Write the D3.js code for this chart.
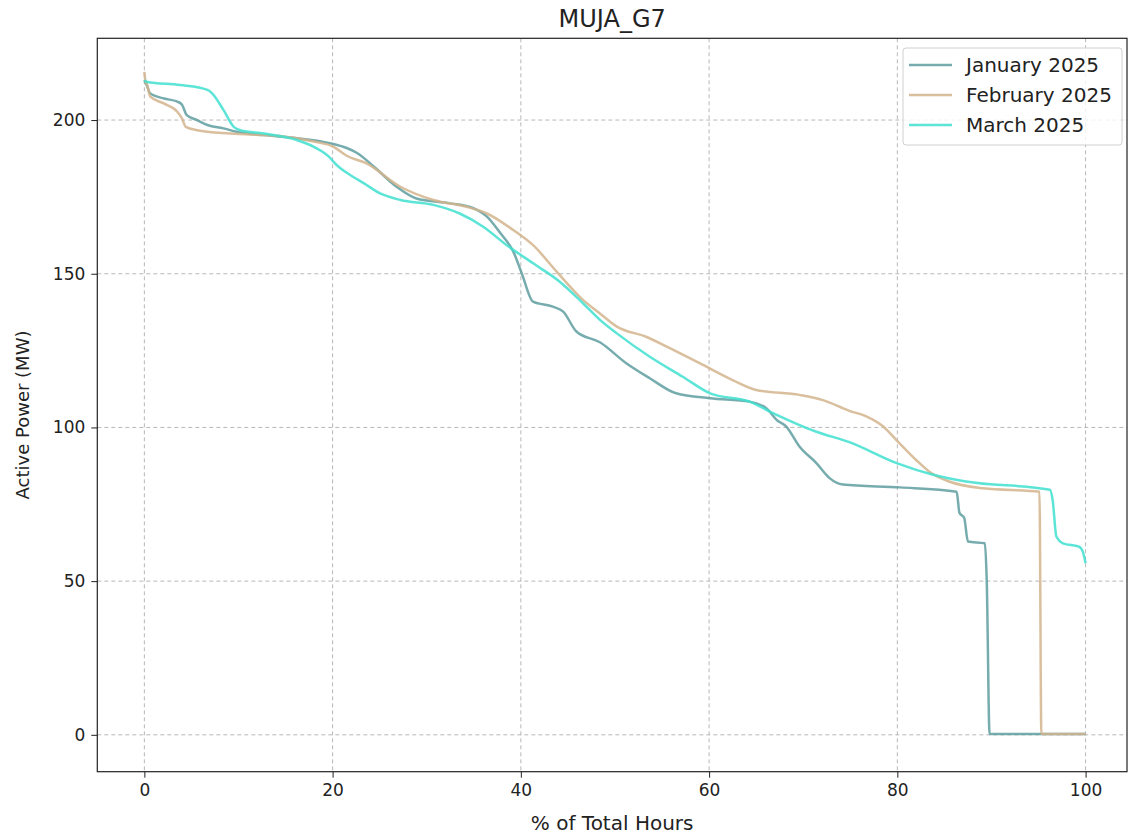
<!DOCTYPE html>
<html><head><meta charset="utf-8">
<script src="https://cdn.jsdelivr.net/npm/d3@7"></script>
<style>body{margin:0;background:#fff}svg{display:block}text{font-family:"DejaVu Sans",sans-serif;fill:#222}</style>
</head><body>
<script>
const title = "MUJA_G7";
const seriesNames = ["January 2025", "February 2025", "March 2025"];
const seriesColors = ["#5F9EA0", "#D2B48C", "#40E0D0"];
const xTicks = [0, 20, 40, 60, 80, 100];
const yTicks = [0, 50, 100, 150, 200];

const janX = [0, 0.3, 0.6, 2.1, 3.5, 4, 4.5, 5.6, 6.7, 8.4, 9.8, 12.7, 16.2, 19.7, 21.5, 22.6, 24.4, 26.8, 28.9, 32.5, 34.9, 36.4, 37.8, 39.2, 40.1, 41.3, 43.4, 44.5, 45.9, 48.4, 51.2, 53.7, 56.5, 60.1, 64.3, 66.1, 67.2, 68.2, 69.6, 71.4, 72.8, 74.2, 80.3, 86.3, 86.6, 87.1, 87.5, 89.3, 89.5, 89.8, 95, 100];
const janY = [213, 211, 208.7, 207, 206, 205, 201.6, 200, 198.4, 197.3, 196.2, 195.1, 194.1, 192.5, 190.9, 189.3, 184.8, 178.3, 174.5, 172.9, 171.4, 168.6, 163.3, 157.2, 150.1, 140.9, 139.3, 137.7, 131.2, 127.7, 120.9, 116, 111.1, 109.5, 108.4, 106.2, 102.4, 100.3, 93.8, 88.4, 83.5, 81.4, 80.5, 79.1, 72.2, 70.6, 62.9, 62.3, 50, 0.3, 0.3, 0.3];

const febX = [0, 0.1, 0.3, 0.64, 2.06, 3.5, 4, 4.4, 5.6, 9.1, 14.4, 18, 20.1, 21.5, 23.6, 27.2, 30.7, 34.2, 36.4, 39.2, 41.3, 43.8, 46.6, 48.4, 50.2, 53.3, 55.5, 59, 62.5, 65, 69.6, 72.1, 74.9, 76.7, 78.5, 79.9, 82, 83.4, 85.5, 89.1, 95.1, 95.3, 100];
const febY = [215.7, 213, 211.4, 207.6, 205.4, 202.7, 200.5, 197.8, 196.7, 195.6, 194.8, 193, 191.3, 188.4, 185.9, 178.3, 174, 171.8, 169.6, 164.2, 159.3, 150.7, 141.5, 137.1, 132.8, 129.5, 126.3, 120.9, 115.4, 112.2, 110.6, 108.9, 105.4, 103.6, 100.3, 95.9, 89.4, 85.6, 82.4, 80.2, 79.1, 0.3, 0.3];

const marX = [0, 0.3, 3.8, 6.7, 7.2, 8.4, 9.5, 10.2, 12.7, 16.2, 18, 19.8, 20.1, 22.2, 23.3, 25, 27.2, 30.7, 33.5, 36, 38.5, 41.3, 44.1, 46.6, 48.4, 50.2, 53.7, 57.2, 60.1, 64.3, 66.5, 71.4, 74.9, 80, 83.8, 87.3, 96.2, 96.5, 96.9, 97.6, 99.3, 99.7, 100];
const marY = [213, 212.4, 211.4, 209.8, 208.7, 203.3, 197.8, 196.7, 195.6, 193.5, 191.3, 187.5, 186.4, 181.5, 179.5, 176.2, 174, 172.4, 169.6, 165.3, 159.3, 153.4, 147.5, 140.4, 135, 130.6, 123, 116.5, 111.1, 108.4, 105.1, 98.6, 95.2, 88.3, 84.6, 82.4, 79.7, 76.4, 64.5, 62.3, 61.2, 59.6, 55.8];

const seriesX = [janX, febX, marX];
const seriesY = [janY, febY, marY];

const W = 1128, H = 835;
const L = 97.3, R = 1127, T = 38.3, B = 771.7;
const x = d3.scaleLinear().domain([-5, 104.4]).range([L, R]);
const y = d3.scaleLinear().domain([-12.0, 226.6]).range([B, T]);

const svg = d3.select("body").append("svg").attr("width", W).attr("height", H);

// grid
const grid = svg.append("g");
grid.selectAll(".gx").data(xTicks).join("line")
  .attr("x1", d => x(d)).attr("x2", d => x(d)).attr("y1", T).attr("y2", B)
  .attr("stroke", "#b8b8b8").attr("stroke-width", 1).attr("stroke-dasharray", "4,3");
grid.selectAll(".gy").data(yTicks).join("line")
  .attr("y1", d => y(d)).attr("y2", d => y(d)).attr("x1", L).attr("x2", R)
  .attr("stroke", "#b8b8b8").attr("stroke-width", 1).attr("stroke-dasharray", "4,3");

// lines
const line = d3.line().x(d => x(d[0])).y(d => y(d[1])).curve(d3.curveMonotoneX);
seriesNames.forEach((n, i) => {
  const pts = seriesX[i].map((v, j) => [v, seriesY[i][j]]);
  svg.append("path").datum(pts).attr("d", line)
    .attr("fill", "none").attr("stroke", seriesColors[i]).attr("stroke-width", 2.5)
    .attr("stroke-opacity", 0.85).attr("stroke-linejoin", "round");
});

// axes
const xAxis = d3.axisBottom(x).tickValues(xTicks).tickSize(6).tickPadding(6);
const yAxis = d3.axisLeft(y).tickValues(yTicks).tickSize(6).tickPadding(6);
const gx = svg.append("g").attr("transform", `translate(0,${B})`).call(xAxis);
const gy = svg.append("g").attr("transform", `translate(${L},0)`).call(yAxis);
[gx, gy].forEach(g => {
  g.select(".domain").remove();
  g.selectAll("line").attr("stroke", "#222");
  g.selectAll("text").style("font-family", "DejaVu Sans").style("font-size", "17px").attr("fill", "#222");
});

svg.append("rect").attr("x", L).attr("y", T).attr("width", R - L).attr("height", B - T)
  .attr("fill", "none").attr("stroke", "#222").attr("stroke-width", 1.2);

svg.append("text").attr("x", (L + R) / 2).attr("y", 27).attr("text-anchor", "middle")
  .style("font-size", "24px").text(title);
svg.append("text").attr("x", (L + R) / 2).attr("y", 830).attr("text-anchor", "middle")
  .style("font-size", "20px").text("% of Total Hours");
svg.append("text").attr("transform", `translate(29,${(T + B) / 2 + 10}) rotate(-90)`).attr("text-anchor", "middle")
  .style("font-size", "18px").text("Active Power (MW)");

// legend
const lg = svg.append("g");
lg.append("rect").attr("x", 903).attr("y", 48).attr("width", 219).attr("height", 97).attr("rx", 3)
  .attr("fill", "#fff").attr("fill-opacity", 0.8).attr("stroke", "#d0d0d0");
seriesNames.forEach((n, i) => {
  const yy = 65 + i * 30;
  lg.append("line").attr("x1", 909).attr("x2", 952).attr("y1", yy).attr("y2", yy)
    .attr("stroke", seriesColors[i]).attr("stroke-width", 2.5).attr("stroke-opacity", 0.85);
  lg.append("text").attr("x", 966).attr("y", yy + 7).style("font-size", "20px").text(n);
});
</script>
</body></html>
